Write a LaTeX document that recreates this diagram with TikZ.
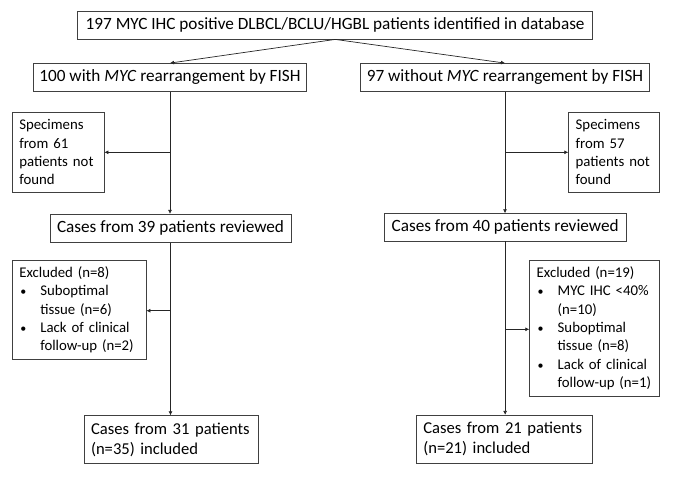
\documentclass[tikz,border=0pt]{standalone}
\usepackage{fontspec}
\setmainfont{Carlito}
\usetikzlibrary{arrows.meta}
\begin{document}
\begin{tikzpicture}[x=1pt,y=-1pt,
  bigbox/.style={draw=black!75, line width=0.8pt, inner sep=0pt, font=\fontsize{17.2}{20}\selectfont},
  smallbox/.style={draw=black!75, line width=0.8pt, inner ysep=0pt, inner xsep=7pt, align=left, font=\fontsize{14.8}{18.3}\selectfont},
  wrapbox/.style={draw=black!75, line width=0.8pt, inner ysep=0pt, inner xsep=7pt, align=left, font=\fontsize{16.6}{20}\selectfont},
  conn/.style={draw=black!85, line width=0.7pt},
  arr/.style={conn, -{Latex[length=4pt,width=4pt]}}]
\useasboundingbox (0,0) rectangle (673,477);
\newcommand{\bul}[1]{\mbox{\makebox[21pt][l]{\hspace*{1pt}{\fontsize{12}{12}\selectfont\textbullet}}#1}}
\newcommand{\ind}[1]{\mbox{\hspace*{21pt}#1}}
\node[bigbox, minimum width=515pt, minimum height=27.3pt] (top) at (335.2,25.35) {197 MYC IHC positive DLBCL/BCLU/HGBL patients identified in database};
\node[bigbox, minimum width=273.4pt, minimum height=28pt] (L1) at (170,77.5) {100 with \textit{MYC} rearrangement by FISH};
\node[bigbox, minimum width=288.6pt, minimum height=28pt] (R1) at (505,77.5) {97 without \textit{MYC} rearrangement by FISH};
\node[smallbox, text width=77.7pt, minimum height=80pt] (SL) at (58.15,152.3) {Specimens\\from 61\\patients not\\found};
\node[smallbox, text width=76.3pt, minimum height=80pt] (SR) at (613.85,152.3) {Specimens\\from 57\\patients not\\found};
\node[bigbox, minimum width=241pt, minimum height=28pt] (CL) at (170.5,228.3) {Cases from 39 patients reviewed};
\node[bigbox, minimum width=242.3pt, minimum height=27.3pt] (CR) at (505.15,227.35) {Cases from 40 patients reviewed};
\node[smallbox, text width=119.7pt, minimum height=98.3pt] (EL) at (79.15,309.85) {Excluded (n=8)\\\bul{Suboptimal}\\\ind{tissue (n=6)}\\\bul{Lack of clinical}\\\ind{follow-up (n=2)}};
\node[smallbox, text width=115.6pt, minimum height=135.3pt] (ER) at (594.5,328.35) {Excluded (n=19)\\\bul{MYC IHC <40\%}\\\ind{(n=10)}\\\bul{Suboptimal}\\\ind{tissue (n=8)}\\\bul{Lack of clinical}\\\ind{follow-up (n=1)}};
\node[wrapbox, text width=160.7pt, minimum height=47.6pt] (BL) at (171.35,439.5) {Cases from 31 patients\\(n=35) included};
\node[wrapbox, text width=162pt, minimum height=48pt] (BR) at (504.3,439.3) {Cases from 21 patients\\(n=21) included};
\coordinate (jL1) at (170,152.3);
\coordinate (jR1) at (505.3,152.3);
\coordinate (jL2) at (170,310.7);
\coordinate (jR2) at (505.3,329.3);
\draw[arr] (top.south) -- (L1.north);
\draw[arr] (top.south) -- (R1.north);
\draw[arr] (L1.south) -- (L1.south |- CL.north);
\draw[arr] (R1.south) -- (R1.south |- CR.north);
\draw[arr] (jL1) -- (jL1 -| SL.east);
\draw[arr] (jR1) -- (jR1 -| SR.west);
\draw[arr] (CL.south) -- (CL.south |- BL.north);
\draw[arr] (CR.south) -- (CR.south |- BR.north);
\draw[arr] (jL2) -- (jL2 -| EL.east);
\draw[arr] (jR2) -- (jR2 -| ER.west);
\end{tikzpicture}
\end{document}
